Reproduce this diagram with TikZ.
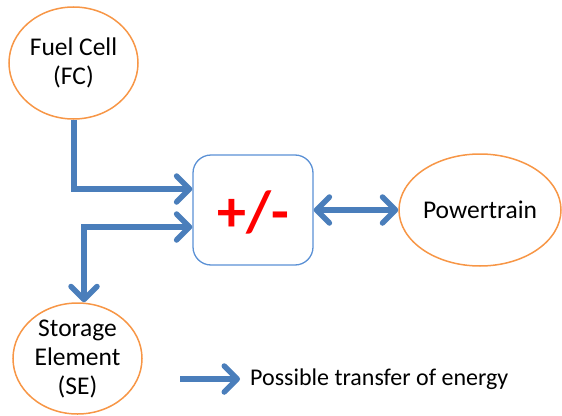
\documentclass[tikz,border=0pt]{standalone}
\usepackage{fontspec}
\setmainfont{Carlito}
\usetikzlibrary{shapes.geometric,arrows.meta}
\definecolor{ellorange}{RGB}{247,150,70}
\definecolor{boxblue}{RGB}{91,145,213}
\definecolor{arrblue}{RGB}{74,126,187}
\tikzset{barb/.tip={Straight Barb[length=13pt,width=26pt,line width=5.5pt,round]}}
\begin{document}
\begin{tikzpicture}[x=1pt,y=-1pt,
  lbl/.style={font=\fontsize{25.5}{29}\selectfont, align=center, inner sep=0pt},
  elln/.style={ellipse, draw=ellorange, line width=1.5pt, lbl},
  conv/.style={draw=boxblue, line width=1.3pt, rounded corners=18pt, minimum width=120pt, minimum height=110pt, inner sep=0pt},
  flow/.style={draw=arrblue, line width=6pt, line join=miter, arrows={-barb}},
  bflow/.style={draw=arrblue, line width=6pt, arrows={barb-barb}}
]
\useasboundingbox (0,0) rectangle (562,415);
\node[elln, minimum width=129pt, minimum height=112pt] (fc) at (73.5,63) {Fuel Cell\\(FC)};
\node[elln, minimum width=129pt, minimum height=111pt] (se) at (77.5,358.5) {Storage\\Element\\(SE)};
\node[elln, minimum width=162pt, minimum height=112pt] (pt) at (480,210) {Powertrain};
\node[conv] (box) at (253,210) {};
\node[text=red, font=\fontsize{58}{60}\selectfont\bfseries, inner sep=0pt] (pm) at (253.5,212) {+/-};
\draw[flow] (fc.south) |- ([yshift=21pt]box.west);
\draw[bflow] ([yshift=-17pt]box.west) -| ([xshift=6.5pt]se.north);
\draw[bflow] (box.east) -- (pt.west);
\coordinate (l1) at (180,379);
\node[font=\fontsize{24}{28}\selectfont, inner sep=0pt, anchor=west] (leg) at (250,379) {Possible transfer of energy};
\draw[flow, shorten >=10pt] (l1) -- (leg.west);
\end{tikzpicture}
\end{document}
